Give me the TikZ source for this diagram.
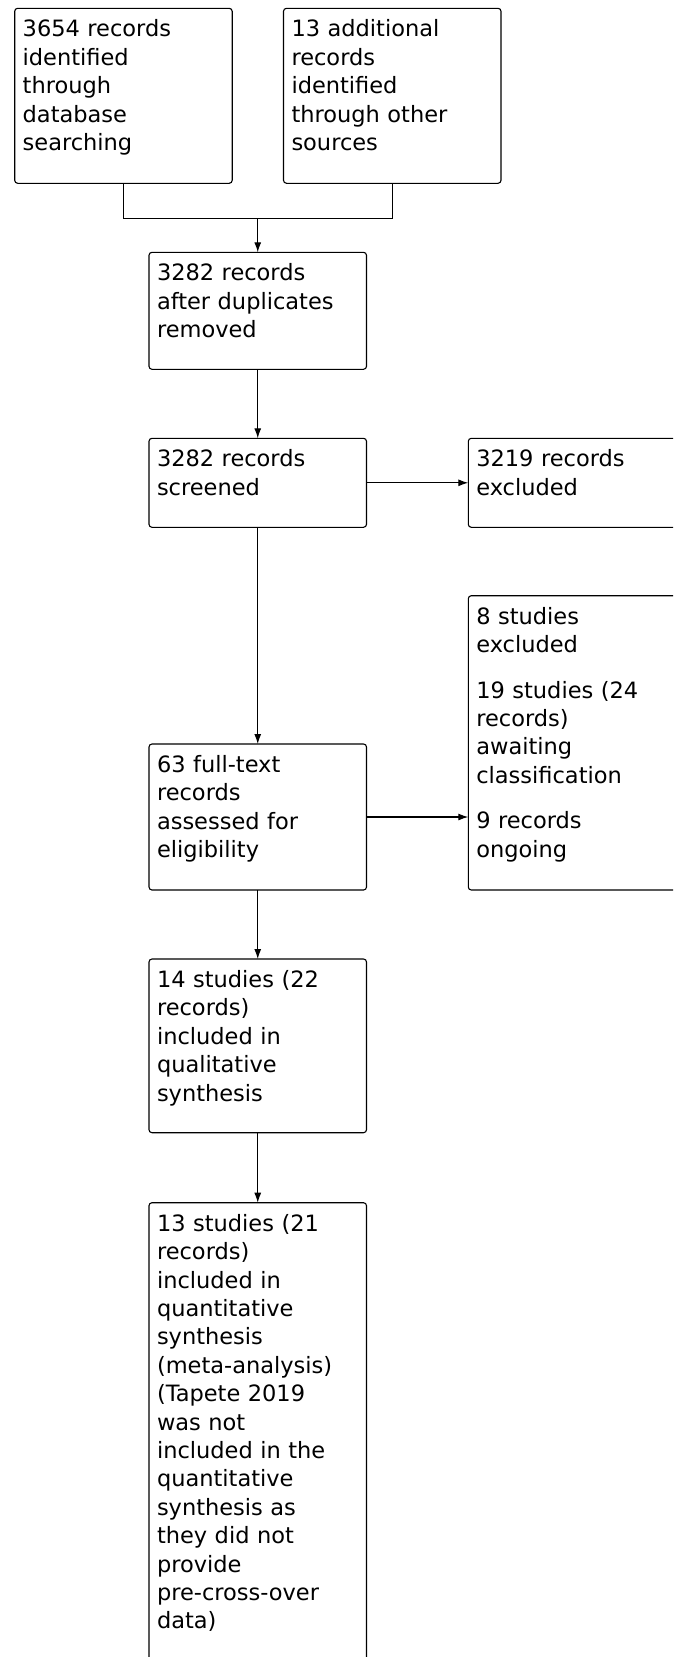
\documentclass[tikz,border=0pt]{standalone}
\usepackage{fontspec}
\setmainfont{DejaVu Sans}
\usetikzlibrary{arrows.meta}

\begin{document}
\begin{tikzpicture}[x=1pt, y=-1pt,
    flowbox/.style={draw, line width=1.1pt, rounded corners=3pt, anchor=north west, outer sep=0pt,
      align=left, text width=201.5pt, inner xsep=8pt, inner ysep=8pt, text height=20.5pt,
      font=\fontsize{22.5pt}{28.4pt}\selectfont},
    flowline/.style={line width=1.1pt},
    flowarrow/.style={flowline, -{Latex[length=10pt,width=7pt]}}]
  \clip (0,0) rectangle (673,1657);

  % Identification
  \node[flowbox, text depth=138.5pt] (dbsearch) at (14.7,8.3) {3654 records\\identified\\through\\database\\searching};
  \node[flowbox, text depth=138.5pt] (othersrc) at (283.5,8.3) {13 additional\\records\\identified\\through other\\sources};

  % Screening
  \node[flowbox, text depth=80.5pt] (dedup) at (149,252.3) {3282 records\\after duplicates\\removed};
  \node[flowbox, text depth=52.5pt] (screened) at (149,438.3) {3282 records\\screened};
  \node[flowbox, text depth=52.5pt] (excluded) at (468.3,438.3) {3219 records\\excluded};

  % Eligibility
  \node[flowbox, text depth=109.5pt] (fulltext) at (149,744) {63 full-text\\records\\assessed for\\eligibility};
  \node[flowbox, text depth=257.8pt] (notincl) at (468.3,595.7) {8 studies\\excluded\\[17pt]19 studies (24\\records)\\awaiting\\classification\\[17pt]9 records\\ongoing};

  % Included
  \node[flowbox, text depth=137.2pt] (qualit) at (149,959) {14 studies (22\\records)\\included in\\qualitative\\synthesis};
  \node[flowbox, text depth=483.5pt] (quantit) at (149,1202.7) {13 studies (21\\records)\\included in\\quantitative\\synthesis\\(meta-analysis)\\(Tapete 2019\\was not\\included in the\\quantitative\\synthesis as\\they did not\\provide\\pre-cross-over\\data)};

  % Connectors
  \coordinate (merge) at (dedup.north |- 0,218.3);
  \draw[flowline] (dbsearch.south) |- (merge) -| (othersrc.south);
  \draw[flowarrow] (merge) -- (dedup.north);
  \draw[flowarrow] (dedup) -- (screened);
  \draw[flowarrow] (screened.east) -- (screened.east -| excluded.west);
  \draw[flowarrow] (screened) -- (fulltext);
  \draw[flowarrow] (fulltext.east) -- (fulltext.east -| notincl.west);
  \draw[flowarrow] (fulltext) -- (qualit);
  \draw[flowarrow] (qualit) -- (quantit);
\end{tikzpicture}
\end{document}
